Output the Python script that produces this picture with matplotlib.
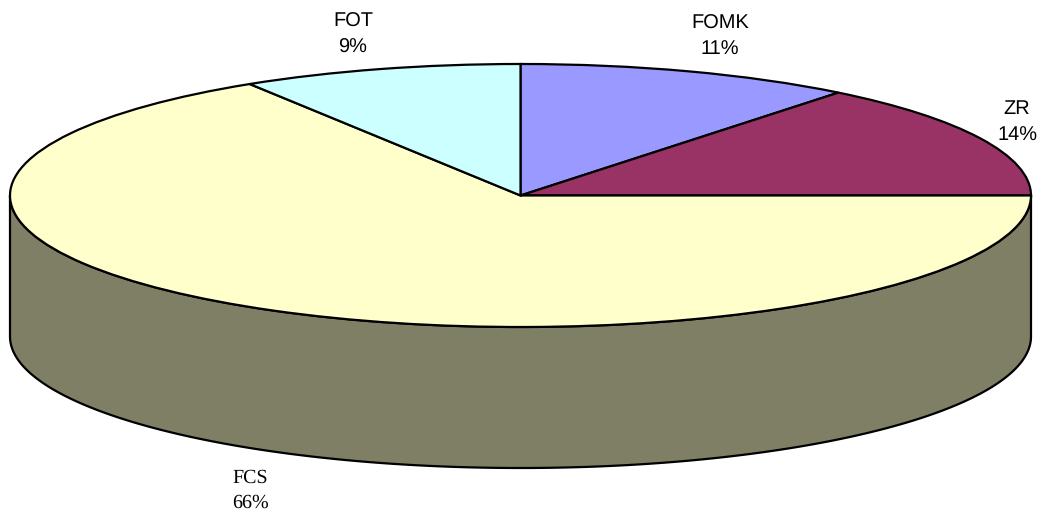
import numpy as np
import matplotlib
matplotlib.use('Agg')
import matplotlib.pyplot as plt

# 数据（标签显示的是四舍五入后的百分比）
labels = ['FOMK', 'ZR', 'FCS', 'FOT']
values = [10.7, 14.3, 66.1, 8.9]
colors = ['#9999FF', '#993366', '#FFFFCC', '#CCFFFF']
side_color = '#7F7F66'

W, H = 1043, 520
cx, cy = 520.5, 195.5
rx, ry = 510.5, 131.5
depth = 141 / ry

plt.rcParams['text.hinting'] = 'none'

fig = plt.figure(figsize=(W / 100, H / 100), dpi=100, facecolor='white')
ax = fig.add_axes([0, 0, 1, 1])

wedges, _ = ax.pie(values, colors=colors, startangle=90, counterclock=False,
                   radius=1, wedgeprops={'edgecolor': 'black', 'linewidth': 1.6, 'zorder': 3})

# 压扁成椭圆，坐标和像素对应
ax.set_aspect('auto')
ax.set_xlim(-cx / rx, (W - cx) / rx)
ax.set_ylim(-(H - cy) / ry, cy / ry)
ax.axis('off')

# 侧面：前半圈的弧往下平移
t = np.radians(np.linspace(180, 360, 400))
xs = np.cos(t)
ys = np.sin(t)
side_x = np.concatenate([xs, xs[::-1]])
side_y = np.concatenate([ys, ys[::-1] - depth])
ax.fill(side_x, side_y, facecolor=side_color, edgecolor='black', linewidth=1.6,
        joinstyle='round', zorder=1)

# 标签
def label(i, x, y, family):
    fig.text(x / W, 1 - y / H, f'{labels[i]}\n{round(values[i])}%', ha='center', va='center',
             fontsize=14.4, family=family, color='black', linespacing=1.55)

label(0, 720, 36.5, 'Liberation Sans')
label(1, 1017, 122, 'Liberation Sans')
label(2, 250, 490.5, 'Liberation Serif')
label(3, 353, 34.5, 'Liberation Sans')

fig.savefig('out.png', dpi=100)
